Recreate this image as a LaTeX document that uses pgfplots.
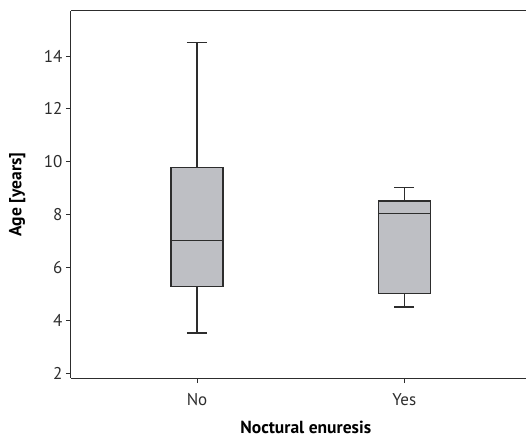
\documentclass[border=0pt]{standalone}
\usepackage{fontspec}
\setmainfont{PT Sans}
\usepackage{pgfplots}
\pgfplotsset{compat=1.18}
\usepgfplotslibrary{statistics}
\definecolor{boxgray}{RGB}{190,191,196}
\definecolor{linedark}{RGB}{45,45,45}
\begin{document}
\begin{tikzpicture}
\begin{axis}[
  scale only axis,
  width=455pt, height=367pt,
  xmin=0.392, xmax=2.587,
  ymin=1.82, ymax=15.70,
  axis x line*=box, axis y line*=left,
  axis line style={linedark, line width=1pt},
  xtick={1,2}, xticklabels={No,Yes},
  xtick pos=lower,
  ytick={2,4,...,14},
  tick align=outside,
  major tick length=5pt,
  tick style={linedark, line width=0.8pt},
  ticklabel style={font=\fontsize{17}{20}\selectfont, text=linedark},
  xticklabel style={yshift=-7pt},
  /pgf/number format/assume math mode=true,
  xlabel={\textbf{Noctural enuresis}},
  ylabel={\textbf{Age [years]}},
  label style={font=\fontsize{17.5}{20}\selectfont, text=black},
  xlabel style={at={(axis description cs:0.516,0)}, anchor=north, inner sep=0pt, yshift=-43pt},
  ylabel style={at={(axis description cs:0,0.5)}, anchor=south, rotate=0, yshift=42pt},
  boxplot/draw direction=y,
  boxplot/box extend=0.25,
  boxplot/whisker extend=0.097,
  boxplot/every box/.style={draw=linedark, fill=boxgray, line width=1.4pt},
  boxplot/every median/.style={draw=linedark, line width=1.4pt},
  boxplot/every whisker/.style={draw=linedark, line width=1.4pt},
]
\addplot+[mark=none, fill=boxgray, draw=linedark, line width=1.4pt,
  boxplot prepared={draw position=1, median=7.03, upper quartile=9.78,
    lower quartile=5.29, upper whisker=14.52, lower whisker=3.52}]
  coordinates {};
\addplot+[mark=none, fill=boxgray, draw=linedark, line width=1.4pt,
  boxplot prepared={draw position=2, median=8.04, upper quartile=8.51,
    lower quartile=5.01, upper whisker=9.03, lower whisker=4.50}]
  coordinates {};
\coordinate (sw) at (rel axis cs:0,0);
\end{axis}
\pgfresetboundingbox
\path ([shift={(-71pt,-59pt)}]sw) rectangle ++(526pt,437pt);
\end{tikzpicture}
\end{document}
